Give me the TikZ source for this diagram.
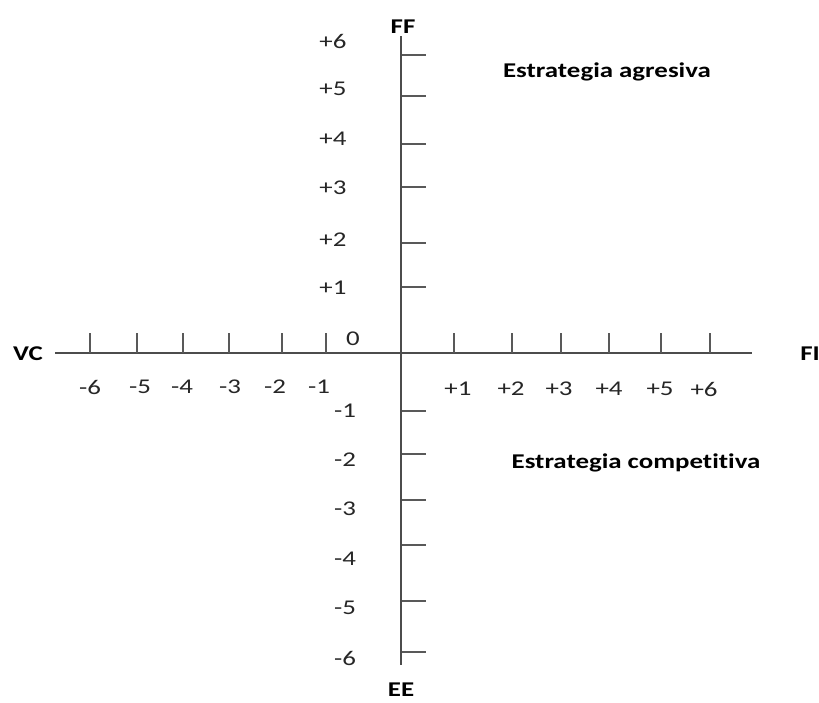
\documentclass[tikz,border=0pt]{standalone}
\usepackage{fontspec}
\setmainfont[Ligatures=NoCommon,FakeStretch=1.28]{Carlito}
\begin{document}
\begin{tikzpicture}[x=1pt,y=-1pt,
  axis/.style={draw=black!70,line width=1.4pt},
  tick/.style={draw=black!65,line width=1.2pt},
  num/.style={font=\fontsize{21}{23}\selectfont,text=black!85,inner sep=0pt},
  lab/.style={font=\bfseries\fontsize{21}{23}\selectfont,text=black,inner sep=0pt}]
\useasboundingbox (0,0) rectangle (819,702);
% axes
\coordinate (top) at (401,36);
\coordinate (bot) at (401,665);
\coordinate (left) at (55,353);
\coordinate (right) at (752,353);
\draw[axis] (top) -- (bot);
\draw[axis] (left) -- (right);
% vertical ticks
\foreach \y in {55,96,144,187,243,287,411,454,500,545,601,652}
  \draw[tick] (402,\y) -- (426,\y);
% horizontal ticks
\foreach \x in {90,137,183,229,282,326,454,512,561,609,661,710}
  \draw[tick] (\x,333) -- (\x,353);
% vertical labels
\node[num] (p6) at (333,41) {+6};
\node[num] (p5) at (333,89) {+5};
\node[num] (p4) at (333,139) {+4};
\node[num] (p3) at (333,188) {+3};
\node[num] (p2) at (333,240) {+2};
\node[num] (p1) at (333,288) {+1};
\node[num] (zero) at (353,339) {0};
\node[num] (m1) at (345,411) {-1};
\node[num] (m2) at (345,460) {-2};
\node[num] (m3) at (345,509) {-3};
\node[num] (m4) at (345,559) {-4};
\node[num] (m5) at (345,608) {-5};
\node[num] (m6) at (345,658) {-6};
% horizontal labels
\node[num] (hm6) at (90,387) {-6};
\node[num] (hm5) at (140,387) {-5};
\node[num] (hm4) at (182,387) {-4};
\node[num] (hm3) at (230,387) {-3};
\node[num] (hm2) at (275,387) {-2};
\node[num] (hm1) at (319,387) {-1};
\node[num] (hp1) at (458,389) {+1};
\node[num] (hp2) at (511,389) {+2};
\node[num] (hp3) at (559,389) {+3};
\node[num] (hp4) at (609,389) {+4};
\node[num] (hp5) at (660,389) {+5};
\node[num] (hp6) at (704,389) {+6};
% axis names
\node[lab] (ff) at (403,27) {FF};
\node[lab] (ee) at (401,690) {EE};
\node[lab] (vc) at (28,354) {VC};
\node[lab] (fi) at (810,354) {FI};
% quadrant texts
\node[lab] (agr) at (607,72) {Estrategia agresiva};
\node[lab] (comp) at (636,463) {Estrategia competitiva};
\end{tikzpicture}
\end{document}
